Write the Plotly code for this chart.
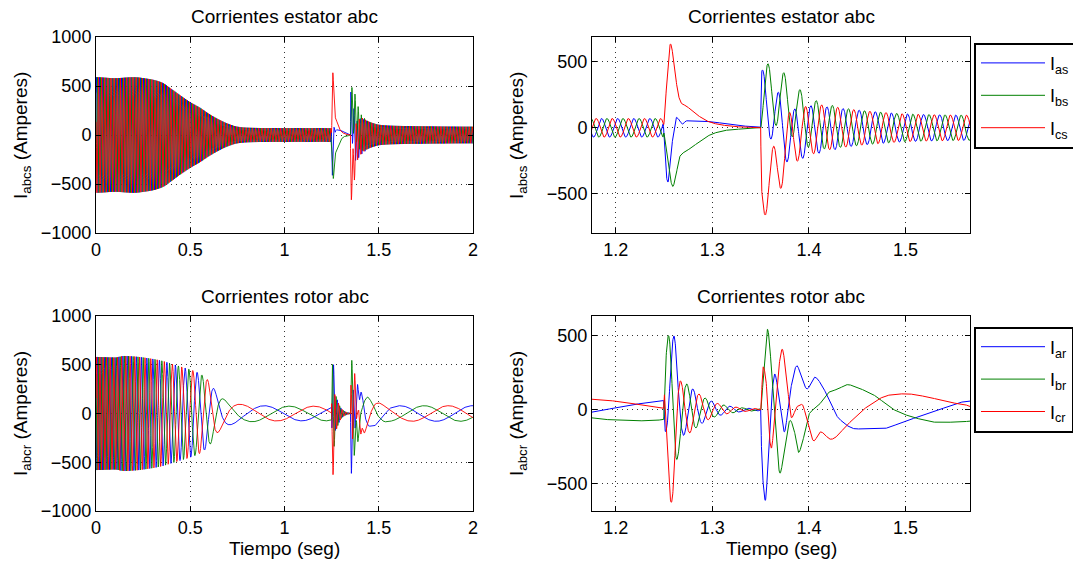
import numpy as np
import plotly.graph_objects as go

W, H = 1073, 567
DT = 0.0002
t = np.round(np.arange(0.0, 2.0 + DT / 2, DT), 6)

# ===================== values =====================
# ---- stator currents (60 Hz supply) ----
stator_freq = 60.0
stator_blue_peak_t = 1.352          # a crest of I_as right after reconnection
stator_amp_t = [0.0, 0.1, 0.2, 0.27, 0.30, 0.35, 0.40, 0.45, 0.50, 0.55, 0.60, 0.65, 0.70, 0.75, 0.80, 0.90,
                1.2490, 1.2500, 1.3500, 1.3505, 1.37, 1.39, 1.41, 1.43, 1.45, 1.48, 1.50, 1.567, 1.7, 2.0]
stator_amp_v = [590, 580, 590, 575, 565, 535, 470, 400, 335, 280, 215, 160, 115, 85, 75, 71,
                70, 0, 0, 240, 220, 195, 180, 155, 135, 115, 105, 95, 90, 85]
# non-oscillating parts (disconnection at 1.25 s, reconnection at 1.35 s)
stator_a_off_t = [0.0, 1.2490, 1.2520, 1.2540, 1.2570, 1.2598, 1.2626, 1.2654, 1.2690, 1.2730, 1.2840, 1.2980,
                  1.3120, 1.3330, 1.3490, 1.3500, 1.3505, 1.3600, 1.3700, 1.3800, 1.3900, 1.4000, 1.4200, 1.4500, 2.0]
stator_a_off_v = [0, 0, -348, -411, -195, -43, 79, 63, 28, 53, 53, 46,
                  33, 13, 8, 0, 200, 150, 30, -60, -50, -20, -10, 0, 0]
stator_b_off_t = [0.0, 1.2490, 1.2500, 1.2556, 1.2590, 1.2626, 1.2660, 1.2710, 1.2770, 1.2840, 1.2910, 1.3010,
                  1.3150, 1.3330, 1.3490, 1.3500, 1.3505, 1.3600, 1.3700, 1.3800, 1.3900, 1.4000, 1.4200, 1.4500, 2.0]
stator_b_off_v = [0, 0, -43, -348, -444, -348, -221, -183, -157, -119, -81, -43,
                  -18, -8, -3, 0, 230, 250, 230, 150, 100, 40, 10, 0, 0]
stator_c_off_t = [0.0, 1.2490, 1.2528, 1.2566, 1.2608, 1.2644, 1.2680, 1.2730, 1.2800, 1.2870, 1.2940, 1.3050,
                  1.3190, 1.3330, 1.3490, 1.3500, 1.3505, 1.3600, 1.3700, 1.3800, 1.3900, 1.4000, 1.4200, 2.0]
stator_c_off_v = [0, 0, 337, 635, 464, 261, 185, 165, 122, 84, 53, 28,
                  13, 5, 2, 0, -430, -400, -260, -90, -50, -20, 0, 0]

# ---- rotor currents (slip frequency during start-up) ----
rotor_freq_t = [0.0, 0.1, 0.2, 0.3, 0.4, 0.5, 0.55, 0.6, 0.65, 0.7, 0.75, 0.8, 0.9, 2.0]
rotor_freq_v = [60, 50, 40, 30, 22, 16, 13, 10, 6.5, 4, 3, 2.7, 2.56, 2.56]
rotor_blue_peak_t = 0.896
rotor_amp_t = [0.0, 0.1, 0.15, 0.2, 0.3, 0.35, 0.4, 0.45, 0.5, 0.55, 0.6, 0.65, 0.7, 0.75, 0.8, 0.9, 1.0,
               1.2500, 1.2560, 2.0]
rotor_amp_v = [580, 575, 590, 585, 560, 540, 510, 480, 450, 410, 330, 190, 125, 100, 88, 80, 76, 75, 0, 0]
# ringing after the disconnection (about 52 Hz, reverse sequence)
rotor_t1_freq = 52.0
rotor_t1_blue_peak_t = 1.2608
rotor_t1_amp_t = [0.0, 1.2495, 1.2505, 1.2600, 1.2650, 1.2700, 1.2800, 1.2900, 1.3000, 1.3100, 1.3200,
                  1.3300, 1.3400, 1.3495, 1.3500, 2.0]
rotor_t1_amp_v = [0, 0, 440, 400, 260, 200, 140, 90, 55, 35, 22, 14, 9, 6, 0, 0]
# slow wave after the reconnection transient
rotor_post_freq = 2.6
rotor_post_blue_peak_t = 1.613
rotor_post_amp_t = [0.0, 1.5670, 1.5672, 2.0]
rotor_post_amp_v = [0, 0, 80, 80]
# directly read curves (offsets of the first ringing + reconnection transient)
rotor_a_off_t = [0.0, 1.2495, 1.2505, 1.2560, 1.2610, 1.2700, 1.2800, 1.3500, 1.3510, 1.3548, 1.3580, 1.3610,
                 1.3646, 1.3690, 1.3745, 1.3800, 1.3875, 1.3930, 1.3980, 1.4060, 1.4130, 1.4210, 1.4310, 1.4490,
                 1.4740, 1.5000, 1.5250, 1.5670, 1.5672, 2.0]
rotor_a_off_v = [0, 0, 240, 170, 100, 25, 0, 0, -300, -614, -300, 60,
                 242, 80, -150, 100, 298, 200, 141, 220, 170, 63, -60, -130,
                 -130, -76, -24, 58, 0, 0]
rotor_b_off_t = [0.0, 1.2495, 1.2505, 1.2550, 1.2640, 1.2740, 1.3500, 1.3520, 1.3570, 1.3620, 1.3660, 1.3700,
                 1.3750, 1.3805, 1.3850, 1.3892, 1.3940, 1.4000, 1.4100, 1.4210, 1.4300, 1.4400, 1.4500, 1.4670,
                 1.4880, 1.5100, 1.5330, 1.5670, 1.5672, 2.0]
rotor_b_off_v = [0, 0, 80, 80, -40, 0, 0, 150, 545, 200, -200, -430,
                 -250, -72, -150, -289, -200, -30, 30, 120, 140, 170, 150, 100,
                 0, -55, -85, -77, 0, 0]
rotor_c_off_t = [0.0, 1.2495, 1.2505, 1.2580, 1.2670, 1.2770, 1.3500, 1.3525, 1.3555, 1.3580, 1.3610, 1.3660,
                 1.3723, 1.3770, 1.3820, 1.3875, 1.3927, 1.3990, 1.4050, 1.4120, 1.4227, 1.4400, 1.4560, 1.4840,
                 1.5000, 1.5200, 1.5450, 1.5670, 1.5672, 2.0]
rotor_c_off_v = [0, 0, -210, -210, -35, 0, 0, 291, 200, -100, -260, 100,
                 410, 200, -54, 20, 36, -100, -211, -150, -200, -100, 0, 100,
                 108, 90, 50, 18, 0, 0]

# ---- text ----
titles = ["Corrientes estator abc", "Corrientes estator abc", "Corrientes rotor abc", "Corrientes rotor abc"]
ylabels = ["I<sub>abcs</sub> (Amperes)", "I<sub>abcr</sub> (Amperes)"]
xlabel = "Tiempo (seg)"
stator_names = ["I<sub>as</sub>", "I<sub>bs</sub>", "I<sub>cs</sub>"]
rotor_names = ["I<sub>ar</sub>", "I<sub>br</sub>", "I<sub>cr</sub>"]
full_xticks = [0, 0.5, 1, 1.5, 2]
full_yticks = [-1000, -500, 0, 500, 1000]
zoom_xticks = [1.2, 1.3, 1.4, 1.5]
zoom_yticks = [-500, 0, 500]


# ===================== build the curves =====================
def kn(tk, vk):
    """Monotone cubic (PCHIP) curve through the read knots."""
    xk = np.asarray(tk, float)
    yk = np.asarray(vk, float)
    h = np.diff(xk)
    d = np.diff(yk) / h
    n = len(xk)
    m = np.zeros(n)
    for i in range(1, n - 1):
        if d[i - 1] * d[i] > 0:
            w1 = 2 * h[i] + h[i - 1]
            w2 = h[i] + 2 * h[i - 1]
            m[i] = (w1 + w2) / (w1 / d[i - 1] + w2 / d[i])
    i = np.clip(np.searchsorted(xk, t, side="right") - 1, 0, n - 2)
    s = (t - xk[i]) / h[i]
    h00 = 2 * s**3 - 3 * s**2 + 1
    h10 = s**3 - 2 * s**2 + s
    h01 = -2 * s**3 + 3 * s**2
    h11 = s**3 - s**2
    return h00 * yk[i] + h10 * h[i] * m[i] + h01 * yk[i + 1] + h11 * h[i] * m[i + 1]


TWO_PI = 2 * np.pi
SH = TWO_PI / 3

theta = TWO_PI * stator_freq * (t - stator_blue_peak_t)
As = kn(stator_amp_t, stator_amp_v)
Ias = kn(stator_a_off_t, stator_a_off_v) + As * np.cos(theta)
Ibs = kn(stator_b_off_t, stator_b_off_v) + As * np.cos(theta - SH)
Ics = kn(stator_c_off_t, stator_c_off_v) + As * np.cos(theta + SH)

fr = np.interp(t, rotor_freq_t, rotor_freq_v)
psi = TWO_PI * np.cumsum(fr) * DT
psi = psi - psi[int(round(rotor_blue_peak_t / DT))]
Ar = kn(rotor_amp_t, rotor_amp_v)
phi = TWO_PI * rotor_t1_freq * (t - rotor_t1_blue_peak_t)
A1 = kn(rotor_t1_amp_t, rotor_t1_amp_v)
psiP = TWO_PI * rotor_post_freq * (t - rotor_post_blue_peak_t)
AP = kn(rotor_post_amp_t, rotor_post_amp_v)
Iar = (Ar * np.cos(psi) + A1 * np.cos(phi) + AP * np.cos(psiP)
       + kn(rotor_a_off_t, rotor_a_off_v))
Ibr = (Ar * np.cos(psi - SH) + A1 * np.cos(phi + SH) + AP * np.cos(psiP - SH)
       + kn(rotor_b_off_t, rotor_b_off_v))
Icr = (Ar * np.cos(psi + SH) + A1 * np.cos(phi - SH) + AP * np.cos(psiP + SH)
       + kn(rotor_c_off_t, rotor_c_off_v))

colors = ["#0000FF", "#008000", "#FF0000"]
zmask = (t >= 1.17) & (t <= 1.57)

fig = go.Figure()
for k, y in enumerate([Ias, Ibs, Ics]):
    fig.add_trace(go.Scatter(x=t, y=y, mode="lines", line=dict(color=colors[k], width=0.9),
                             showlegend=False, xaxis="x", yaxis="y", hoverinfo="skip"))
for k, y in enumerate([Ias, Ibs, Ics]):
    fig.add_trace(go.Scatter(x=t[zmask], y=y[zmask], mode="lines", line=dict(color=colors[k], width=1),
                             name=stator_names[k], legend="legend", legendgroup=stator_names[k],
                             xaxis="x2", yaxis="y2", hoverinfo="skip"))
for k, y in enumerate([Iar, Ibr, Icr]):
    fig.add_trace(go.Scatter(x=t, y=y, mode="lines", line=dict(color=colors[k], width=0.9),
                             showlegend=False, xaxis="x3", yaxis="y3", hoverinfo="skip"))
for k, y in enumerate([Iar, Ibr, Icr]):
    fig.add_trace(go.Scatter(x=t[zmask], y=y[zmask], mode="lines", line=dict(color=colors[k], width=1),
                             name=rotor_names[k], legend="legend2", legendgroup=rotor_names[k],
                             xaxis="x4", yaxis="y4", hoverinfo="skip"))

FONT = "Liberation Sans, Arial, Helvetica, sans-serif"


def ax(domain, rng, ticks, anchor):
    return dict(domain=domain, range=rng, tickvals=ticks, anchor=anchor,
                showline=True, linecolor="black", linewidth=1, mirror="ticks",
                ticks="inside", ticklen=5, tickcolor="black", tickwidth=1,
                showgrid=True, gridcolor="#333333", gridwidth=1, griddash="1px,4px",
                zeroline=False, tickfont=dict(size=18, color="black", family=FONT))


xl = [96 / W, 473 / W]
xr = [592 / W, 970 / W]
yt = [1 - 233 / H, 1 - 37 / H]
yb = [1 - 511 / H, 1 - 316 / H]

annotations = []


def ann(text, x, y, angle=0, size=19):
    annotations.append(dict(text=text, x=x / W, y=1 - y / H, xref="paper", yref="paper",
                            showarrow=False, textangle=angle, xanchor="center", yanchor="middle",
                            font=dict(size=size, color="black", family=FONT)))


ann(titles[0], 284.5, 17)
ann(titles[1], 781, 17)
ann(titles[2], 284.5, 296)
ann(titles[3], 781, 296)
ann(ylabels[0], 22, 136, -90)
ann(ylabels[0], 518, 136, -90)
ann(ylabels[1], 22, 414, -90)
ann(ylabels[1], 518, 414, -90)
ann(xlabel, 284.5, 548)
ann(xlabel, 781, 548)

leg = dict(xref="paper", yref="paper", xanchor="left", yanchor="top", bgcolor="white",
           bordercolor="black", borderwidth=2, itemwidth=64, tracegroupgap=6,
           font=dict(size=18, color="black", family=FONT), traceorder="grouped")

fig.update_layout(
    width=W, height=H, paper_bgcolor="white", plot_bgcolor="white",
    margin=dict(l=0, r=0, t=0, b=0, autoexpand=False),
    xaxis=ax(xl, [0, 2], full_xticks, "y"),
    yaxis=ax(yt, [-1000, 1000], full_yticks, "x"),
    xaxis2=ax(xr, [1.1754, 1.5667], zoom_xticks, "y2"),
    yaxis2=ax(yt, [-797, 688], zoom_yticks, "x2"),
    xaxis3=ax(xl, [0, 2], full_xticks, "y3"),
    yaxis3=ax(yb, [-1000, 1000], full_yticks, "x3"),
    xaxis4=ax(xr, [1.1754, 1.5667], zoom_xticks, "y4"),
    yaxis4=ax(yb, [-686, 635], zoom_yticks, "x4"),
    legend=dict(leg, x=974 / W, y=1 - 42.7 / H),
    legend2=dict(leg, x=974 / W, y=1 - 326.5 / H),
    annotations=annotations,
    font=dict(family=FONT, color="black"),
)

fig.write_html("out.html", config={"displayModeBar": False},
               post_script="document.body.style.margin='0px';document.body.style.overflow='hidden';")
